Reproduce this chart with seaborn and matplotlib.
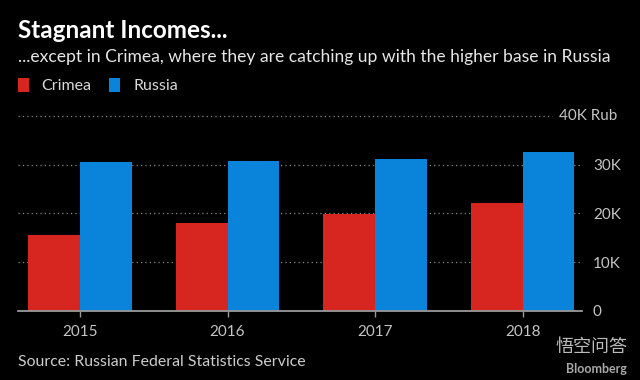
import seaborn as sns
import pandas as pd
import matplotlib.pyplot as plt

years = ["2015", "2016", "2017", "2018"]
crimea = [15600, 18000, 19800, 22200]
russia = [30500, 30700, 31200, 32500]
y_ticks = [0, 10000, 20000, 30000]
y_labels = ["0", "10K", "20K", "30K"]

df = pd.DataFrame({
    "year": years * 2,
    "income": crimea + russia,
    "region": ["Crimea"] * 4 + ["Russia"] * 4,
})

sns.set_style("dark")
plt.rcParams["font.family"] = ["Lato", "DejaVu Sans"]

bg = "black"
fig = plt.figure(figsize=(6.4, 3.8), dpi=100, facecolor=bg)
ax = fig.add_axes([0.028, 0.1816, 0.881, 0.5134])
ax.set_facecolor(bg)

sns.barplot(data=df, x="year", y="income", hue="region",
            palette={"Crimea": "#d6261f", "Russia": "#0a84da"},
            saturation=1, width=0.7, gap=0, edgecolor="none", ax=ax)

ax.set_xlim(-0.42, 3.40)
ax.set_ylim(0, 40000)
ax.set_xlabel("")
ax.set_ylabel("")

ax.yaxis.tick_right()
ax.set_yticks(y_ticks)
ax.set_yticklabels(y_labels)
ax.tick_params(axis="y", length=0, pad=8, labelsize=11, labelcolor="#c4c4c4")
ax.tick_params(axis="x", length=4, width=1, color="#9a9a9a", pad=6,
               labelsize=11, labelcolor="#c4c4c4", bottom=True)

ax.grid(axis="y", color="#8a8a8a", linestyle=(0, (1, 2.5)), linewidth=0.9)
ax.grid(axis="x", visible=False)
ax.set_axisbelow(True)
ax.axhline(40000, xmin=0, xmax=0.947, color="#8a8a8a",
           linestyle=(0, (1, 2.5)), linewidth=0.9, clip_on=False)
fig.text(0.964, 0.695, "40K Rub", ha="right", va="center",
         fontsize=11, color="#c4c4c4")

for s in ["top", "left", "right"]:
    ax.spines[s].set_visible(False)
ax.spines["bottom"].set_color("#9a9a9a")
ax.spines["bottom"].set_linewidth(1.3)

handles, labels = ax.get_legend_handles_labels()
ax.get_legend().remove()
fig.legend(handles, labels, loc="center left", bbox_to_anchor=(0.005, 0.774),
           ncol=2, frameon=False, handlelength=0.7, handleheight=0.9,
           handletextpad=0.8, columnspacing=1.1, fontsize=11.5,
           labelcolor="#d8d8d8")

fig.text(0.028, 0.921, "Stagnant Incomes...", ha="left", va="center",
         fontsize=17.5, fontweight="bold", color="white")
fig.text(0.028, 0.85, "...except in Crimea, where they are catching up with the higher base in Russia",
         ha="left", va="center", fontsize=12.6, color="#e6e6e6")
fig.text(0.028, 0.047, "Source: Russian Federal Statistics Service",
         ha="left", va="center", fontsize=11.4, color="#cccccc")

fig.text(0.98, 0.088, "悟空问答", ha="right", va="center", fontsize=13,
         color="#dddddd", alpha=0.85, family=["Noto Sans CJK SC", "DejaVu Sans"])
fig.text(0.98, 0.028, "Bloomberg", ha="right", va="center", fontsize=9,
         fontweight="bold", color="#bbbbbb", alpha=0.9)

fig.savefig("out.png", dpi=100, facecolor=bg)
